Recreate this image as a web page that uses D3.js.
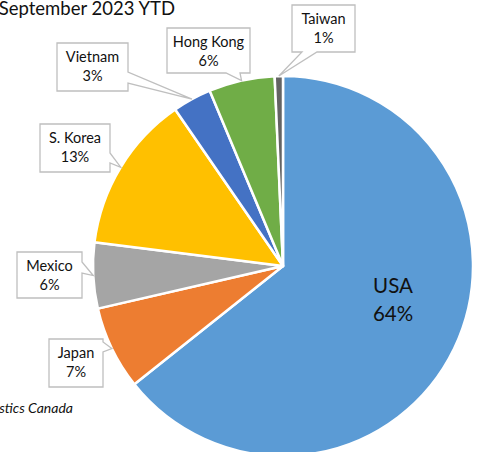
<!DOCTYPE html>
<html>
<head>
<meta charset="utf-8">
<script src="https://cdn.jsdelivr.net/npm/d3@7/dist/d3.min.js"></script>
<style>
  html, body { margin: 0; padding: 0; background: #fff; }
  svg { display: block; font-family: Lato, "Open Sans", sans-serif; }
</style>
</head>
<body>
<svg id="chart" width="478" height="452"></svg>
<script>
// ---- data ----
const categories = ["USA", "Japan", "Mexico", "S. Korea", "Vietnam", "Hong Kong", "Taiwan"];
const shares = [64.3, 7.1, 5.6, 13.4, 3.3, 5.6, 0.7];
const colors = ["#5B9BD5", "#ED7D31", "#A5A5A5", "#FFC000", "#4472C4", "#70AD47", "#636363"];
const titleText = "September 2023 YTD";
const sourceText = "Source: Statistics Canada";

// ---- layout ----
const W = 478, H = 452;
const cx = 283, cy = 266, R = 190;

// callout boxes (layout only): box rect + tail base on a side
const callouts = {
  "Japan":     { x: 49,  y: 339, w: 54, h: 48, side: "right",  b0: 342, b1: 352 },
  "Mexico":    { x: 17,  y: 252, w: 65, h: 46, side: "right",  b0: 262, b1: 273 },
  "S. Korea":  { x: 40,  y: 124, w: 70, h: 48, side: "right",  b0: 153, b1: 163 },
  "Vietnam":   { x: 57,  y: 43,  w: 71, h: 48, side: "right",  b0: 72,  b1: 83 },
  "Hong Kong": { x: 167, y: 28,  w: 83, h: 45, side: "bottom", b0: 226, b1: 240 },
  "Taiwan":    { x: 292, y: 5,   w: 63, h: 47, side: "bottom", b0: 302, b1: 317 }
};

const svg = d3.select("#chart");

const data = categories.map((c, i) => ({ name: c, value: shares[i], color: colors[i] }));

const pie = d3.pie().value(d => d.value).sort(null).startAngle(0).endAngle(2 * Math.PI);
const arcs = pie(data);
const arc = d3.arc().innerRadius(0).outerRadius(R);
const edgeArc = d3.arc().innerRadius(R).outerRadius(R);

const g = svg.append("g").attr("transform", `translate(${cx},${cy})`);

g.selectAll("path.slice")
  .data(arcs)
  .join("path")
  .attr("class", "slice")
  .attr("d", arc)
  .attr("fill", d => d.data.color)
  .attr("stroke", "#fff")
  .attr("stroke-width", 2.5)
  .attr("stroke-linejoin", "round");

// callouts
const fmt = v => Math.round(v) + "%";
arcs.forEach(a => {
  const c = callouts[a.data.name];
  if (!c) return;
  const [tx, ty] = edgeArc.centroid(a);
  const tipX = cx + tx, tipY = cy + ty;
  let pts;
  const x0 = c.x, y0 = c.y, x1 = c.x + c.w, y1 = c.y + c.h;
  if (c.side === "right") {
    pts = [[x0, y0], [x1, y0], [x1, c.b0], [tipX, tipY], [x1, c.b1], [x1, y1], [x0, y1]];
  } else {
    pts = [[x0, y0], [x1, y0], [x1, y1], [c.b1, y1], [tipX, tipY], [c.b0, y1], [x0, y1]];
  }
  svg.append("path")
    .attr("d", "M" + pts.map(p => p.join(",")).join("L") + "Z")
    .attr("fill", "#fff")
    .attr("stroke", "#BFBFBF")
    .attr("stroke-width", 1.3);
  const t = svg.append("text")
    .attr("x", x0 + c.w / 2)
    .attr("text-anchor", "middle")
    .attr("font-size", 14.5)
    .attr("fill", "#111");
  t.append("tspan").attr("x", x0 + c.w / 2).attr("y", y0 + 19).text(a.data.name);
  t.append("tspan").attr("x", x0 + c.w / 2).attr("y", y0 + 38).text(fmt(a.data.value));
});

// USA label inside
const usa = arcs[0];
const ul = svg.append("text")
  .attr("text-anchor", "middle")
  .attr("font-size", 20.5)
  .attr("fill", "#111");
ul.append("tspan").attr("x", cx + 110).attr("y", cy + 27).text(usa.data.name);
ul.append("tspan").attr("x", cx + 110).attr("y", cy + 55).text(fmt(usa.data.value));

// title (partially cut at left, as in the reference)
svg.append("text")
  .attr("x", 175).attr("y", 15)
  .attr("text-anchor", "end")
  .attr("font-size", 18.5)
  .attr("fill", "#111")
  .text(titleText);

// source (partially cut at left, as in the reference)
svg.append("text")
  .attr("x", 73).attr("y", 413)
  .attr("text-anchor", "end")
  .attr("font-size", 14)
  .attr("font-style", "italic")
  .attr("fill", "#111")
  .text(sourceText);
</script>
</body>
</html>
